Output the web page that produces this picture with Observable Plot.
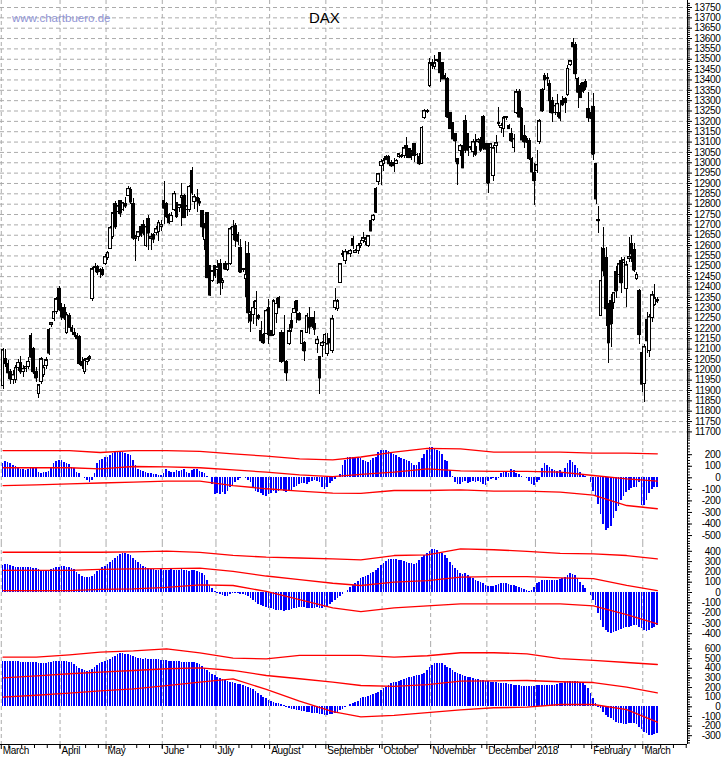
<!DOCTYPE html>
<html><head><meta charset="utf-8">
<script src="https://cdn.jsdelivr.net/npm/d3@7"></script>
<script src="https://cdn.jsdelivr.net/npm/@observablehq/plot@0.6"></script>
<style>
body{margin:0;background:#fff;}
#chart{position:relative;width:723px;height:758px;overflow:hidden;background:#fff;font-family:"Liberation Sans",Arial,Helvetica,sans-serif;}
#chart svg{position:absolute;left:0;overflow:visible;background:transparent;}
#chart svg text{letter-spacing:-0.3px;}
.wm{position:absolute;left:12px;top:12px;font-size:11.5px;color:#9094d4;z-index:5;}
.ttl{position:absolute;left:309px;top:9px;font-size:15px;color:#000;z-index:5;}
</style></head><body>
<div id="chart"><div class="wm">www.chartbuero.de</div><div class="ttl">DAX</div></div>
<script>
// ---- DAX daily candles (trading-day index 0 = early March 2017) ----
const openP = [
11920,12050,12030,11990,11950,11950,12010,12035,11990,12005,
12015,12165,12100,11990,11885,11940,11975,12020,12190,12215,
12245,12280,12390,12300,12300,12180,12260,12200,12180,12165,
12160,12040,11990,12040,12050,12340,12490,12495,12470,12480,
12510,12540,12585,12640,12800,12760,12815,12770,12800,12840,
12870,12800,12630,12640,12690,12700,12600,12730,12630,12650,
12660,12665,12690,12815,12800,12750,12715,12770,12805,12780,
12830,12840,12770,12770,12960,12810,12830,12810,12765,12625,
12755,12500,12430,12500,12480,12510,12420,12510,12480,12510,
12650,12695,12650,12590,12480,12440,12560,12265,12265,12295,
12260,12185,12170,12175,12300,12185,12170,12270,12345,12180,
12178,12040,12125,12236,12275,12330,12270,12125,12129,12178,
12250,12250,12220,12125,12060,12115,12130,12076,12150,12090,
12300,12295,12420,12555,12525,12570,12560,12630,12565,12575,
12600,12620,12615,12600,12720,12725,12875,12905,12985,12995,
13030,13030,13000,13000,12995,13030,13030,13035,13080,13065,
13040,13090,13040,13030,12995,13215,13245,13370,13480,13465,
13490,13530,13480,13420,13405,13240,13190,13140,13019,13058,
13080,13200,13140,13070,13050,13075,13100,13110,13220,13090,
13090,13070,12935,13080,13185,13170,13165,13215,13180,13140,
13070,13240,13340,13260,13130,13115,13105,13020,12952,12960,
13100,13350,13420,13405,13380,13300,13240,13240,13240,13300,
13310,13325,13470,13580,13570,13405,13370,13385,13390,13260,
13240,13270,12995,12725,12260,12584,12540,12320,12330,12323,
12470,12460,12525,12515,12390,12535,12610,12580,12440,12380,
12080,11930,12240,12090,12250,12315,12335];
const highP = [
12105,12100,12045,12000,11995,12020,12050,12065,12020,12035,
12060,12175,12110,12010,11930,12060,12020,12060,12200,12230,
12290,12350,12400,12320,12315,12275,12270,12215,12200,12175,
12165,12060,12055,12060,12070,12495,12515,12505,12490,12495,
12555,12570,12690,12760,12815,12795,12820,12810,12830,12885,
12880,12825,12650,12670,12700,12720,12695,12745,12660,12660,
12690,12720,12720,12910,12810,12755,12760,12860,12810,12800,
12900,12845,12800,12890,12975,12845,12870,12825,12770,12705,
12760,12505,12480,12505,12530,12535,12440,12525,12515,12685,
12720,12705,12665,12630,12490,12620,12615,12280,12330,12380,
12265,12235,12175,12290,12340,12190,12340,12345,12355,12190,
12260,12045,12220,12270,12330,12332,12275,12190,12139,12270,
12300,12255,12280,12160,12065,12135,12175,12175,12155,12260,
12395,12340,12515,12575,12580,12575,12580,12645,12580,12610,
12625,12665,12640,12650,12745,12750,12880,12950,13015,13020,
13035,13035,13010,13020,13015,13045,13040,13085,13120,13070,
13060,13095,13045,13045,13175,13255,13255,13505,13500,13520,
13500,13535,13480,13430,13410,13245,13195,13140,13019,13090,
13135,13230,13140,13080,13110,13135,13115,13120,13230,13095,
13095,13095,13085,13130,13265,13190,13225,13225,13185,13165,
13135,13355,13355,13265,13180,13125,13115,13025,12995,13060,
13210,13360,13430,13430,13395,13315,13280,13330,13290,13320,
13315,13470,13495,13600,13580,13410,13385,13390,13400,13339,
13245,13335,12995,12790,12590,12686,12590,12320,12365,12375,
12500,12515,12540,12540,12525,12640,12650,12610,12470,12390,
12110,12120,12275,12265,12380,12410,12350];
const lowP = [
11905,12010,11965,11930,11930,11935,11990,11975,11965,11985,
12000,12050,11975,11940,11860,11930,11965,12000,12070,12205,
12235,12265,12280,12240,12240,12170,12200,12170,12155,12140,
12020,12000,11975,12020,12040,12330,12475,12455,12440,12450,
12505,12530,12580,12630,12680,12750,12735,12765,12780,12835,
12800,12625,12525,12620,12640,12650,12590,12575,12575,12610,
12650,12620,12670,12700,12730,12700,12710,12765,12730,12760,
12690,12730,12740,12760,12840,12775,12760,12790,12640,12575,
12440,12355,12420,12440,12410,12360,12390,12480,12475,12505,
12640,12590,12600,12465,12470,12350,12225,12180,12220,12210,
12240,12125,12120,12170,12120,12160,12160,12225,12300,12030,
12028,11945,12115,12178,12270,12225,12240,12115,12042,12175,
12170,12200,12165,12080,11880,12060,12125,12065,12125,12080,
12284,12280,12415,12540,12510,12555,12540,12580,12560,12555,
12585,12610,12600,12590,12670,12715,12755,12890,12890,12960,
13010,12995,12975,12952,12990,13020,13020,13020,13020,13020,
13010,13000,13030,12985,12990,13210,13240,13365,13450,13450,
13485,13390,13400,13400,13215,13160,13110,13000,12889,13030,
12970,13045,13030,13060,13025,13030,13095,13050,13060,13065,
12850,13060,12910,13045,13175,13140,13120,13205,13160,13100,
13050,13235,13220,13110,13070,13095,13010,12950,12792,12950,
13090,13245,13350,13370,13240,13195,13230,13220,13200,13270,
13240,13320,13465,13520,13400,13260,13310,13335,13350,13194,
13210,13010,12800,12660,12260,12453,12210,12030,12110,12290,
12345,12450,12370,12505,12300,12520,12520,12470,12430,12120,
11890,11840,12080,12060,12230,12305,12320];
const closeP = [
12095,12030,11985,11955,11975,12010,12035,11990,12005,12015,
12040,12060,11990,11960,11925,12050,12010,12045,12080,12225,
12280,12340,12290,12255,12250,12265,12205,12185,12170,12150,
12030,12020,12045,12050,12060,12485,12495,12470,12480,12460,
12545,12565,12685,12755,12690,12790,12755,12805,12790,12875,
12810,12635,12640,12665,12650,12660,12690,12660,12640,12630,
12680,12710,12700,12780,12740,12710,12745,12850,12740,12795,
12840,12735,12790,12885,12855,12835,12815,12805,12690,12685,
12445,12360,12475,12455,12495,12420,12430,12485,12510,12680,
12690,12625,12620,12470,12485,12460,12275,12235,12300,12330,
12248,12140,12130,12285,12170,12165,12330,12320,12300,12040,
12042,11985,12185,12202,12295,12285,12240,12185,12091,12260,
12205,12210,12195,12145,11960,12130,12170,12124,12130,12245,
12332,12330,12510,12560,12570,12560,12575,12600,12575,12600,
12610,12635,12630,12645,12670,12745,12760,12945,13005,13010,
13015,12995,12985,12986,13010,13040,13035,13070,13040,13025,
13050,13035,13040,12995,13170,13250,13250,13480,13470,13480,
13495,13435,13405,13405,13220,13165,13115,13105,12995,13082,
12975,13060,13060,13075,13100,13040,13110,13060,13070,13065,
12900,13090,13070,13095,13190,13180,13215,13220,13165,13105,
13115,13340,13220,13110,13100,13100,13020,12955,12913,12990,
13200,13250,13400,13410,13300,13240,13275,13285,13215,13280,
13290,13455,13490,13560,13430,13340,13315,13345,13365,13218,
13215,13040,12825,12720,12430,12478,12295,12130,12220,12371,
12380,12510,12420,12530,12505,12545,12560,12480,12460,12170,
11930,12110,12140,12255,12360,12345,12330];

// ---- oscillator histograms (one bar per trading day) ----
const osc1 = [
121,144,135,121,106,98,92,69,69,63, 69,83,86,81,49,35,43,46,55,92,
121,144,150,150,135,121,115,92,78,49, 35,6,-10,-25,-38,-20,35,121,150,156,
173,179,193,213,228,231,222,219,213,202, 193,150,106,69,63,58,49,35,40,29,
29,23,20,35,69,58,49,49,63,58, 63,69,49,35,63,69,69,58,49,35,
12,0,-58,-144,-139,-144,-130,-144,-115,-87, -72,-40,-20,-5,0,-5,-23,-43,-87,-115,
-130,-139,-150,-159,-144,-139,-121,-139,-115,-101, -115,-130,-115,-110,-87,-72,-58,-52,-52,-58,
-43,-29,-23,-29,-43,-87,-101,-87,-52,-35, -14,0,30,106,150,173,179,179,179,164,
165,150,140,135,150,165,180,215,235,240, 240,230,215,205,190,180,170,160,150,140,
125,110,105,130,170,200,240,265,265,255, 240,230,200,150,140,60,10,-40,-55,-60,
-45,-35,-50,-40,-35,-45,-30,-40,-55,-70, -30,-15,-10,-25,-5,40,55,45,40,70,
65,40,25,10,0,-5,-30,-55,-70,-45, -20,80,120,105,90,70,60,55,60,50,
80,120,150,130,110,80,50,30,10,0, -40,-120,-160,-230,-320,-400,-460,-440,-420,-350,
-290,-250,-200,-160,-130,-110,-90,-80,-80,-40, -240,-240,-200,-140,-100,-80,-80];
const osc2 = [
262,272,272,262,255,246,239,246,239,239, 246,240,235,230,220,214,214,214,214,220,
230,240,246,252,252,246,240,230,220,197, 175,160,150,145,150,160,175,200,220,240,
255,270,290,310,330,350,365,375,375,370, 355,330,310,290,270,255,240,230,225,220,
215,215,220,215,210,215,220,215,210,215, 220,215,210,205,215,210,200,190,180,165,
120,70,40,10,-10,-20,-30,-40,-35,-20, -10,-5,-10,-15,-20,-25,-40,-60,-80,-100,
-115,-130,-140,-150,-155,-160,-165,-170,-175,-175, -180,-178,-170,-165,-160,-155,-150,-150,-150,-155,
-160,-160,-155,-150,-160,-160,-150,-140,-120,-100, -80,-60,-40,-20,0,20,50,70,90,105,
133,143,155,165,181,197,214,230,262,278, 301,317,317,317,317,311,311,305,294,285,
278,272,278,311,336,359,381,398,414,414, 408,391,375,359,327,294,262,230,214,181,
175,181,165,149,133,117,110,100,90,68, 62,58,62,68,78,84,90,84,78,68,
68,58,52,36,26,19,13,19,52,84, 100,117,117,117,117,117,117,117,123,133,
149,165,181,175,165,133,100,68,36,3, -29,-78,-126,-207,-272,-337,-370,-385,-395,-385,
-375,-370,-363,-353,-343,-337,-330,-320,-320,-337, -353,-370,-375,-370,-353,-337,-320];
const osc3 = [
474,474,474,470,468,466,466,463,463,463, 460,460,458,455,450,446,446,450,455,463,
468,474,474,474,470,466,463,455,440,420, 400,385,377,370,377,390,410,430,446,460,
470,480,495,510,525,540,550,550,548,545, 535,520,510,500,498,495,498,495,490,488,
490,488,485,481,478,474,474,470,466,466, 463,460,455,455,460,455,446,435,420,400,
380,360,340,320,305,295,285,270,260,255, 248,240,235,230,225,215,205,190,175,160,
140,120,100,85,70,55,45,35,30,20, 10,-5,-15,-25,-30,-35,-40,-45,-50,-55,
-60,-65,-70,-73,-80,-85,-90,-90,-85,-80, -70,-55,-40,-25,-10,5,20,30,40,50,
83,93,100,107,118,128,142,152,170,187, 204,221,239,249,256,266,273,280,291,301,
308,315,322,329,336,343,377,405,429,446, 453,453,446,429,411,394,377,360,343,333,
325,315,308,301,291,287,280,273,273,266, 259,256,252,249,245,245,239,239,232,228,
225,221,218,214,211,211,211,211,214,218, 221,221,225,225,221,221,225,232,239,245,
256,266,266,266,266,259,252,239,221,187, 135,83,31,-4,-21,-55,-90,-108,-125,-142,
-160,-170,-177,-184,-184,-177,-177,-177,-184,-212, -239,-263,-280,-298,-298,-290,-280];

// ---- red band lines, read at these trading-day indices ----
const bandIdx   = [0,13,26,38,51,64,77,90,103,116,129,140,153,166,179,192,205,218,231,244,256];
const osc1Upper = [236,236,236,219,236,236,228,208,187,164,156,180,222,255,251,222,222,222,213,213,208];
const osc1Mid   = [87,87,87,78,98,95,87,69,49,26,11,30,49,78,60,55,55,49,20,-9,-29];
const osc1Lower = [-67,-62,-52,-45,-38,-29,-29,-67,-95,-116,-133,-135,-110,-110,-104,-116,-116,-124,-150,-240,-268];
const osc2Upper = [391,391,391,391,395,401,390,360,343,335,327,317,359,365,424,415,400,380,375,359,327];
const osc2Mid   = [214,214,214,225,230,232,236,205,160,125,90,68,100,115,149,155,155,142,135,70,19];
const osc2Lower = [19,19,19,30,36,50,75,68,10,-70,-150,-185,-150,-130,-110,-110,-110,-110,-130,-215,-304];
const osc3Upper = [515,515,540,567,580,602,560,505,498,533,533,533,515,530,561,561,550,500,481,460,439];
const osc3Mid   = [301,320,343,360,377,395,405,377,325,291,256,221,212,230,266,270,273,260,252,204,145];
const osc3Lower = [100,120,142,165,187,220,256,290,180,60,-50,-105,-90,-60,-31,-10,-4,24,24,-30,-160];

// ---- axis labels ----
const monthStart  = [0,23,41,63,84,105,127,149,168,190,209,231,251];
const monthLabels = ["March","April","May","June","July","August","September","October","November","December","2018","February","March"];
const priceTicks = d3.range(11700, 13751, 50);
const osc1Ticks = [200,100,0,-100,-200,-300,-400,-500];
const osc2Ticks = [400,300,200,100,0,-100,-200,-300,-400];
const osc3Ticks = [600,500,400,300,200,100,0,-100,-200,-300];

// ---------------- drawing ----------------
const X_DOMAIN = [-1, 267.8];
const W = 723, MR = 36;
const FONT = "'Liberation Sans', Arial, Helvetica, sans-serif";
const chart = document.getElementById("chart");

function yDomain(v1, y1, v2, y2, top, bottom) {
  const k = (y2 - y1) / (v2 - v1);
  return [v1 + (bottom - y1) / k, v1 + (top - y1) / k];
}
function place(svg, top) {
  svg.style.position = "absolute";
  svg.style.top = top + "px";
  svg.style.left = "0px";
  chart.insertBefore(svg, chart.firstChild);
}
const grid = {stroke: "#ababab", strokeDasharray: "4,3", strokeWidth: 1};
const monthGrid = () => Plot.ruleX(monthStart, {x: d => d - 0.7, ...grid});

function rightAxis(labels, minor) {
  return [
    Plot.ruleX([X_DOMAIN[1]], {stroke: "#000", strokeWidth: 1}),
    Plot.axisY(minor, {anchor: "right", tickSize: 2, tickFormat: () => "", label: null}),
    Plot.axisY(labels, {anchor: "right", tickSize: 4, tickFormat: () => "", label: null}),
    Plot.text(labels, {y: d => d, text: d => String(d), frameAnchor: "right", textAnchor: "end", dx: 33, fontSize: 10, fill: "#000"})
  ];
}
const baseStyle = {fontFamily: FONT, fontSize: "10px", background: "transparent", overflow: "visible", color: "#000"};

// main candle panel
const candles = closeP.map((c, i) => ({i, o: openP[i], h: highP[i], l: lowP[i], c}));
const upC = candles.filter(d => d.c >= d.o);
const dnC = candles.filter(d => d.c < d.o);
const p1 = Plot.plot({
  width: W, height: 441, marginLeft: 0, marginRight: MR, marginTop: 0, marginBottom: 0,
  style: baseStyle,
  x: {domain: X_DOMAIN, axis: null},
  y: {domain: yDomain(13750, 7, 11700, 431.4, 0, 441)},
  marks: [
    Plot.ruleY(priceTicks, grid),
    monthGrid(),
    Plot.ruleX(candles, {x: "i", y1: "l", y2: "h", stroke: "#000", strokeWidth: 1, shapeRendering: "crispEdges"}),
    Plot.rect(upC, {x1: d => d.i - 0.5, x2: d => d.i + 0.5, y1: "o", y2: "c", fill: "#fff", stroke: "#000", strokeWidth: 1, shapeRendering: "crispEdges"}),
    Plot.rect(dnC, {x1: d => d.i - 0.5, x2: d => d.i + 0.5, y1: "o", y2: "c", fill: "#000", stroke: "#000", strokeWidth: 1, shapeRendering: "crispEdges"}),
    Plot.ruleY(candles, {y: "c", x1: d => d.i - 0.5, x2: d => d.i + 0.5, stroke: "#000", strokeWidth: 1}),
    ...rightAxis(priceTicks, d3.range(11660, 13780, 10))
  ]
});
place(p1, 0);

function oscPanel(values, up, mid, low, labels, anchors, top, bottom, height, mb, extra) {
  const bars = values.map((v, i) => ({i, v}));
  const band = arr => bandIdx.map((x, j) => ({x, v: arr[j]}));
  const dom = yDomain(anchors[0], anchors[1], anchors[2], anchors[3], top, bottom);
  const minor = d3.range(Math.ceil(dom[0] / 25) * 25, dom[1], 25);
  const svg = Plot.plot({
    width: W, height, marginLeft: 0, marginRight: MR, marginTop: 0, marginBottom: mb,
    style: baseStyle,
    x: {domain: X_DOMAIN, axis: extra ? undefined : null},
    y: {domain: dom},
    marks: [
      monthGrid(),
      Plot.rect(bars, {x1: d => d.i - 0.32, x2: d => d.i + 0.32, y1: () => 0, y2: "v", fill: "#0000ff", shapeRendering: "crispEdges"}),
      Plot.line(band(up), {x: "x", y: "v", stroke: "#ff0000", strokeWidth: 1.3}),
      Plot.line(band(mid), {x: "x", y: "v", stroke: "#ff0000", strokeWidth: 1.3}),
      Plot.line(band(low), {x: "x", y: "v", stroke: "#ff0000", strokeWidth: 1.3}),
      ...rightAxis(labels, minor),
      ...(extra ? extra(dom) : [])
    ]
  });
  place(svg, top);
}

oscPanel(osc1, osc1Upper, osc1Mid, osc1Lower, osc1Ticks, [200, 454.2, -500, 535.05], 441, 543, 102, 0, null);
oscPanel(osc2, osc2Upper, osc2Mid, osc2Lower, osc2Ticks, [400, 550.8, -400, 633.2], 543, 643, 100, 0, null);
oscPanel(osc3, osc3Upper, osc3Mid, osc3Lower, osc3Ticks, [600, 648.5, -300, 735.2], 643, 744, 115, 14, dom => [
  Plot.ruleY([dom[0]], {stroke: "#000", strokeWidth: 1}),
  Plot.axisX(d3.range(2.3, 268, 5), {anchor: "bottom", tickSize: 4, tickFormat: () => "", label: null}),
  Plot.axisX(monthStart.map(d => d - 0.7), {anchor: "bottom", tickSize: 5, tickFormat: () => "", label: null}),
  Plot.text(monthStart, {x: d => d - 0.7, frameAnchor: "bottom", dy: 9, dx: 1.5, textAnchor: "start", text: (d, i) => monthLabels[i], fontSize: 10, fill: "#000"})
]);
</script>
</body></html>
